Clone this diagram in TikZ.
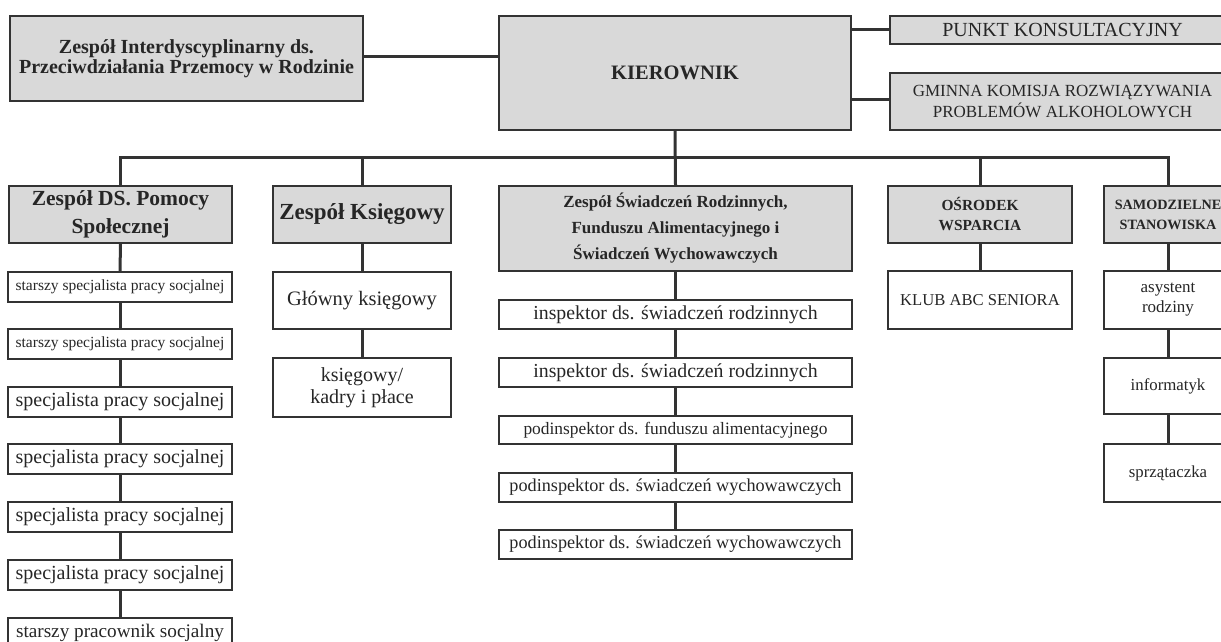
\documentclass[tikz,border=0pt]{standalone}
\usepackage{fontspec}
\setmainfont{Liberation Serif}
\newcommand\myfs[2]{\fontsize{#1}{#2}\selectfont}
\tikzset{
  box/.style={draw=black!80, line width=2pt, inner sep=0pt, anchor=north west, align=center, text=black!85},
  hbox/.style={box, fill=black!15},
  conn/.style={draw=black!80, line width=3pt},
}
\begin{document}
\begin{tikzpicture}[x=1pt,y=-1pt]
\useasboundingbox (0,0) rectangle (1221,642);
\clip (0,0) rectangle (1221,642);
\fill[white] (0,0) rectangle (1221,642);

% top row
\node[hbox, minimum width=353pt, minimum height=85pt, font=\myfs{20}{20}\bfseries] (interd) at (9,15)
  {Zespół Interdyscyplinarny ds.\\Przeciwdziałania Przemocy w Rodzinie};
\node[hbox, minimum width=352pt, minimum height=114pt, font=\myfs{20.5}{22}\bfseries] (kier) at (498,15)
  {KIEROWNIK};
\node[hbox, minimum width=345pt, minimum height=28pt, font=\myfs{20}{20}] (punkt) at (889,15)
  {PUNKT KONSULTACYJNY};
\node[hbox, minimum width=345pt, minimum height=57pt, font=\myfs{17}{21}] (gminna) at (889,72)
  {GMINNA KOMISJA ROZWIĄZYWANIA\\PROBLEMÓW ALKOHOLOWYCH};

\coordinate (bus) at (674,157);

% column A
\node[hbox, minimum width=223pt, minimum height=57pt, font=\myfs{21.5}{28}\bfseries] (a0) at (8,185)
  {Zespół DS. Pomocy\\Społecznej};
\node[box, minimum width=224pt, minimum height=30pt, font=\myfs{15.5}{17}] (a1) at (7,271)
  {starszy specjalista pracy socjalnej};
\node[box, minimum width=224pt, minimum height=30pt, font=\myfs{15.5}{17}] (a2) at (7,328)
  {starszy specjalista pracy socjalnej};
\node[box, minimum width=224pt, minimum height=30pt, font=\myfs{20}{20}] (a3) at (7,386)
  {specjalista pracy socjalnej};
\node[box, minimum width=224pt, minimum height=30pt, font=\myfs{20}{20}] (a4) at (7,443)
  {specjalista pracy socjalnej};
\node[box, minimum width=224pt, minimum height=30pt, font=\myfs{20}{20}] (a5) at (7,501)
  {specjalista pracy socjalnej};
\node[box, minimum width=224pt, minimum height=30pt, font=\myfs{20}{20}] (a6) at (7,559)
  {specjalista pracy socjalnej};
\node[box, minimum width=224pt, minimum height=40pt, text depth=14pt, font=\myfs{19.2}{20}] (a7) at (7,617)
  {starszy pracownik socjalny};

% column B
\node[hbox, minimum width=178pt, minimum height=57pt, font=\myfs{23}{24}\bfseries] (b0) at (272,185)
  {Zespół Księgowy};
\node[box, minimum width=178pt, minimum height=57pt, font=\myfs{20.5}{22}] (b1) at (272,271)
  {Główny księgowy};
\node[box, minimum width=178pt, minimum height=59pt, font=\myfs{20}{22}] (b2) at (272,357)
  {księgowy/\\kadry i płace};

% column C
\node[hbox, minimum width=353pt, minimum height=85pt, font=\myfs{17}{26}\bfseries] (c0) at (498,185)
  {Zespół Świadczeń Rodzinnych,\\Funduszu Alimentacyjnego i\\Świadczeń Wychowawczych};
\node[box, minimum width=353pt, minimum height=29pt, font=\myfs{19.8}{20}] (c1) at (498,299)
  {inspektor ds. świadczeń rodzinnych};
\node[box, minimum width=353pt, minimum height=29pt, font=\myfs{19.8}{20}] (c2) at (498,357)
  {inspektor ds. świadczeń rodzinnych};
\node[box, minimum width=353pt, minimum height=28pt, font=\myfs{17.4}{19}] (c3) at (498,415)
  {podinspektor ds. funduszu alimentacyjnego};
\node[box, minimum width=353pt, minimum height=29pt, font=\myfs{18.2}{20}] (c4) at (498,472)
  {podinspektor ds. świadczeń wychowawczych};
\node[box, minimum width=353pt, minimum height=29pt, font=\myfs{18.2}{20}] (c5) at (498,529)
  {podinspektor ds. świadczeń wychowawczych};

% column D
\node[hbox, minimum width=184pt, minimum height=57pt, font=\myfs{15.4}{20}\bfseries] (d0) at (887,185)
  {OŚRODEK\\WSPARCIA};
\node[box, minimum width=184pt, minimum height=58pt, font=\myfs{16.6}{18}] (d1) at (887,270)
  {KLUB ABC SENIORA};

% column E
\node[hbox, minimum width=128pt, minimum height=57pt, font=\myfs{14.2}{20}\bfseries] (e0) at (1103,185)
  {SAMODZIELNE\\STANOWISKA};
\node[box, minimum width=128pt, minimum height=58pt, font=\myfs{17}{20}] (e1) at (1103,270)
  {asystent\\rodziny};
\node[box, minimum width=128pt, minimum height=56pt, font=\myfs{16.8}{18}] (e2) at (1103,357)
  {informatyk};
\node[box, minimum width=128pt, minimum height=58pt, font=\myfs{16.8}{18}] (e3) at (1103,443)
  {sprzątaczka};

% connectors top
\draw[conn] (interd.east |- 0,57) -- (kier.west |- 0,57);
\draw[conn] (kier.east |- punkt.west) -- (punkt.west);
\draw[conn] (kier.east |- 0,99) -- (gminna.west |- 0,99);
\draw[conn] (kier.south) -- (c0.north);
\draw[conn] (a0.north) |- (bus) -| (e0.north);
\draw[conn] (b0.north) -- (b0.north |- bus);
\draw[conn] (d0.north) -- (d0.north |- bus);

% column connectors
\foreach \p/\q in {a0/a1,a1/a2,a2/a3,a3/a4,a4/a5,a5/a6,a6/a7,
                   b0/b1,b1/b2,
                   c0/c1,c1/c2,c2/c3,c3/c4,c4/c5,
                   d0/d1,
                   e0/e1,e1/e2,e2/e3}
  \draw[conn] (\p.south) -- (\q.north);
\end{tikzpicture}
\end{document}
